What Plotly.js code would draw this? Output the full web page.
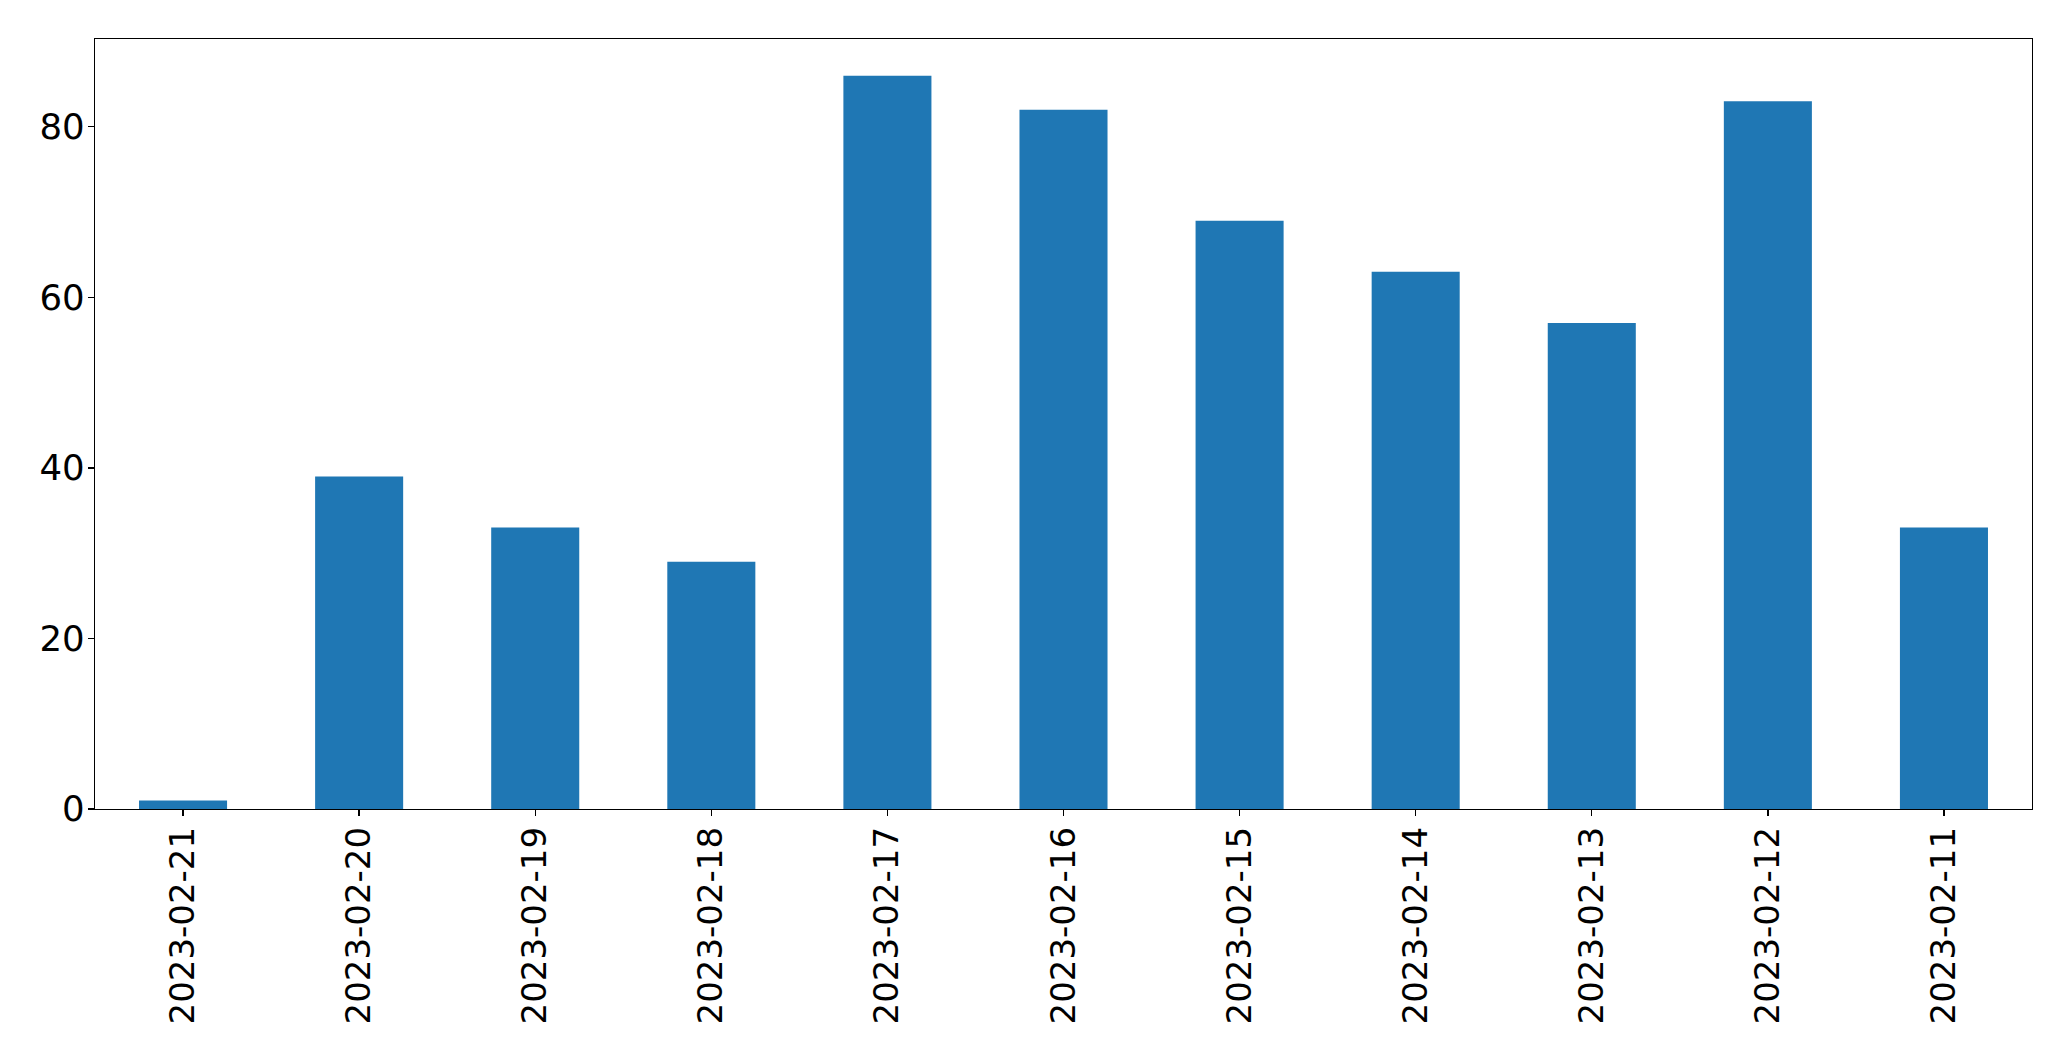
<!DOCTYPE html>
<html>
<head>
<meta charset="utf-8">
<script src="https://cdn.plot.ly/plotly-3.0.1.min.js"></script>
<style>html,body{margin:0;padding:0;background:#fff;}#chart{width:2071px;height:1061px;}</style>
</head>
<body>
<div id="chart"></div>
<script>
const dates = ["2023-02-21","2023-02-20","2023-02-19","2023-02-18","2023-02-17","2023-02-16","2023-02-15","2023-02-14","2023-02-13","2023-02-12","2023-02-11"];
const counts = [1, 39, 33, 29, 86, 82, 69, 63, 57, 83, 33];
const yTicks = [0, 20, 40, 60, 80];

const xfont = {family: "DejaVu Sans, sans-serif", size: 34, color: "#000"};
const yfont = {family: "DejaVu Sans, sans-serif", size: 35.5, color: "#000"};
Plotly.newPlot("chart", [{
  type: "bar",
  x: dates,
  y: counts,
  width: 0.5,
  marker: {color: "#1f77b4", line: {width: 0}},
  hoverinfo: "none"
}], {
  width: 2071, height: 1061,
  margin: {l: 95, r: 39, t: 39, b: 252, pad: 0},
  paper_bgcolor: "#fff", plot_bgcolor: "#fff",
  showlegend: false,
  font: xfont,
  xaxis: {
    type: "category",
    range: [-0.5, dates.length - 0.5],
    tickangle: -90,
    ticks: "outside", ticklen: 6, tickwidth: 1.3, tickcolor: "#000",
    showline: true, mirror: true, linecolor: "#000", linewidth: 1.3,
    showgrid: false, zeroline: false,
    tickfont: xfont,
    ticklabelstandoff: -3
  },
  yaxis: {
    range: [0, 90.3],
    tickvals: yTicks,
    ticktext: yTicks.map(String),
    ticks: "outside", ticklen: 6, tickwidth: 1.3, tickcolor: "#000",
    showline: true, mirror: true, linecolor: "#000", linewidth: 1.3,
    showgrid: false, zeroline: false,
    tickfont: yfont,
    ticklabelstandoff: -4
  }
}, {staticPlot: true, displayModeBar: false});
</script>
</body>
</html>
